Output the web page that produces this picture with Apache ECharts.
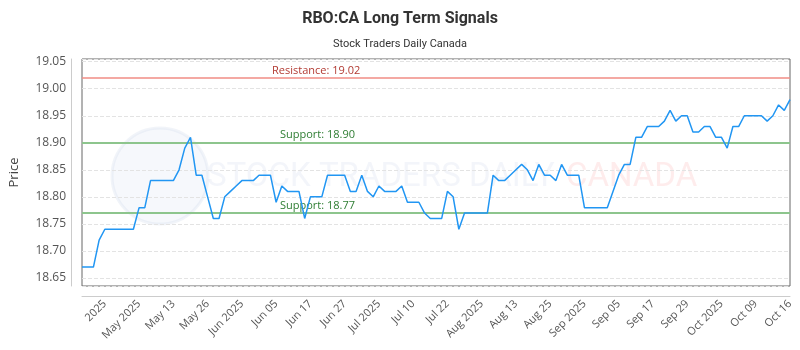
<!DOCTYPE html>
<html>
<head>
<meta charset="utf-8">
<script src="https://cdn.jsdelivr.net/npm/echarts@6/dist/echarts.min.js"></script>
<style>
  html, body { margin: 0; padding: 0; background: #fff; }
  #chart { width: 800px; height: 350px; }
</style>
</head>
<body>
<div id="chart"></div>
<script>
// closing prices, one per trading day
const prices = [
  18.67, 18.67, 18.67, 18.72, 18.74, 18.74, 18.74, 18.74, 18.74, 18.74,
  18.78, 18.78, 18.83, 18.83, 18.83, 18.83, 18.83, 18.85, 18.89, 18.91,
  18.84, 18.84, 18.80, 18.76, 18.76, 18.80, 18.81, 18.82, 18.83, 18.83,
  18.83, 18.84, 18.84, 18.84, 18.79, 18.82, 18.81, 18.81, 18.81, 18.76,
  18.80, 18.80, 18.80, 18.84, 18.84, 18.84, 18.84, 18.81, 18.81, 18.84,
  18.81, 18.80, 18.82, 18.81, 18.81, 18.81, 18.82, 18.79, 18.79, 18.79,
  18.77, 18.76, 18.76, 18.76, 18.81, 18.80, 18.74, 18.77, 18.77, 18.77,
  18.77, 18.77, 18.84, 18.83, 18.83, 18.84, 18.85, 18.86, 18.85, 18.83,
  18.86, 18.84, 18.84, 18.83, 18.86, 18.84, 18.84, 18.84, 18.78, 18.78,
  18.78, 18.78, 18.78, 18.81, 18.84, 18.86, 18.86, 18.91, 18.91, 18.93,
  18.93, 18.93, 18.94, 18.96, 18.94, 18.95, 18.95, 18.92, 18.92, 18.93,
  18.93, 18.91, 18.91, 18.89, 18.93, 18.93, 18.95, 18.95, 18.95, 18.95,
  18.94, 18.95, 18.97, 18.96, 18.98
];

const tickLabels = [
  "2025", "May 2025", "May 13", "May 26", "Jun 2025", "Jun 05", "Jun 17",
  "Jun 27", "Jul 2025", "Jul 10", "Jul 22", "Aug 2025", "Aug 13", "Aug 25",
  "Sep 2025", "Sep 05", "Sep 17", "Sep 29", "Oct 2025", "Oct 09", "Oct 16"
];
const labelStart = 4;   // first labelled category
const labelEvery = 6;   // categories between labels

const resistance = 19.02;
const supports = [18.90, 18.77];

// trading-day categories (weekdays from late April)
const dates = [];
let d = new Date(Date.UTC(2025, 3, 21));
while (dates.length < prices.length) {
  const wd = d.getUTCDay();
  if (wd !== 0 && wd !== 6) dates.push(d.toISOString().slice(0, 10));
  d.setUTCDate(d.getUTCDate() + 1);
}

const chart = echarts.init(document.getElementById("chart"));

chart.setOption({
  backgroundColor: "#fff",
  animation: false,
  title: {
    text: "RBO:CA Long Term Signals",
    subtext: "Stock Traders Daily Canada",
    left: "center",
    top: 6,
    itemGap: 12,
    textStyle: { fontFamily: "Roboto", fontSize: 16, fontWeight: "bold", color: "#333" },
    subtextStyle: { fontFamily: "Roboto", fontSize: 11, color: "#333" }
  },
  graphic: [
    {
      type: "circle",
      shape: { cx: 160, cy: 176, r: 48 },
      style: { fill: "rgba(215,222,240,0.22)", stroke: "rgba(210,218,235,0.3)", lineWidth: 3 },
      silent: true,
      z: 0
    },
    {
      type: "text",
      left: 207,
      top: 161,
      style: {
        text: "STOCK TRADERS DAILY",
        fontFamily: "Roboto",
        fontSize: 33,
        fill: "rgba(200,210,232,0.22)"
      },
      silent: true,
      z: 0
    },
    {
      type: "text",
      left: 566,
      top: 161,
      style: {
        text: "CANADA",
        fontFamily: "Roboto",
        fontSize: 33,
        fill: "rgba(250,170,170,0.22)"
      },
      silent: true,
      z: 0
    }
  ],
  grid: {
    left: 78, right: 10, top: 59, bottom: 64,
    show: true,
    borderColor: "#666",
    borderWidth: 1,
    backgroundColor: "transparent"
  },
  xAxis: {
    type: "category",
    data: dates,
    boundaryGap: false,
    offset: 10,
    axisLine: { lineStyle: { color: "#ccc" } },
    axisTick: { show: false },
    splitLine: { show: false },
    axisLabel: {
      rotate: 45,
      margin: 6,
      fontFamily: "Open Sans",
      fontSize: 11,
      color: "#555",
      interval: (i) => i >= labelStart && (i - labelStart) % labelEvery === 0,
      formatter: (v, i) => tickLabels[(i - labelStart) / labelEvery] || ""
    }
  },
  yAxis: {
    type: "value",
    min: 18.635,
    max: 19.055,
    splitNumber: 8,
    offset: 11,
    name: "Price",
    nameLocation: "middle",
    nameGap: 50,
    nameTextStyle: { fontFamily: "Open Sans", fontSize: 13, color: "#444" },
    axisLine: { show: true, lineStyle: { color: "#ccc" } },
    axisTick: { show: false },
    splitLine: { lineStyle: { color: "#e3e3e3", type: "dashed" } },
    axisLabel: {
      margin: 5,
      fontFamily: "Open Sans",
      fontSize: 12,
      color: "#555",
      showMinLabel: false,
      showMaxLabel: false,
      formatter: (v) => v.toFixed(2)
    }
  },
  series: [
    {
      // level lines sit under the price line
      type: "line",
      data: [],
      z: 1,
      markLine: {
        silent: true,
        symbol: "none",
        animation: false,
        z: 1,
        label: { fontFamily: "Open Sans", fontSize: 11 },
        data: [
          {
            yAxis: resistance,
            lineStyle: { color: "#f08c84", width: 1.5, type: "solid" },
            label: {
              formatter: "Resistance: " + resistance.toFixed(2),
              position: "insideStartTop",
              distance: [190, 2],
              color: "#b23a32"
            }
          },
          ...supports.map((s) => ({
            yAxis: s,
            lineStyle: { color: "#8dc58d", width: 2, type: "solid" },
            label: {
              formatter: "Support: " + s.toFixed(2),
              position: "insideStartTop",
              distance: [198, 2],
              color: "#2e7d32"
            }
          }))
        ]
      }
    },
    {
      type: "line",
      data: prices,
      symbol: "none",
      lineStyle: { width: 1.5, color: "#2196f3" },
      z: 10
    }
  ]
});
</script>
</body>
</html>
